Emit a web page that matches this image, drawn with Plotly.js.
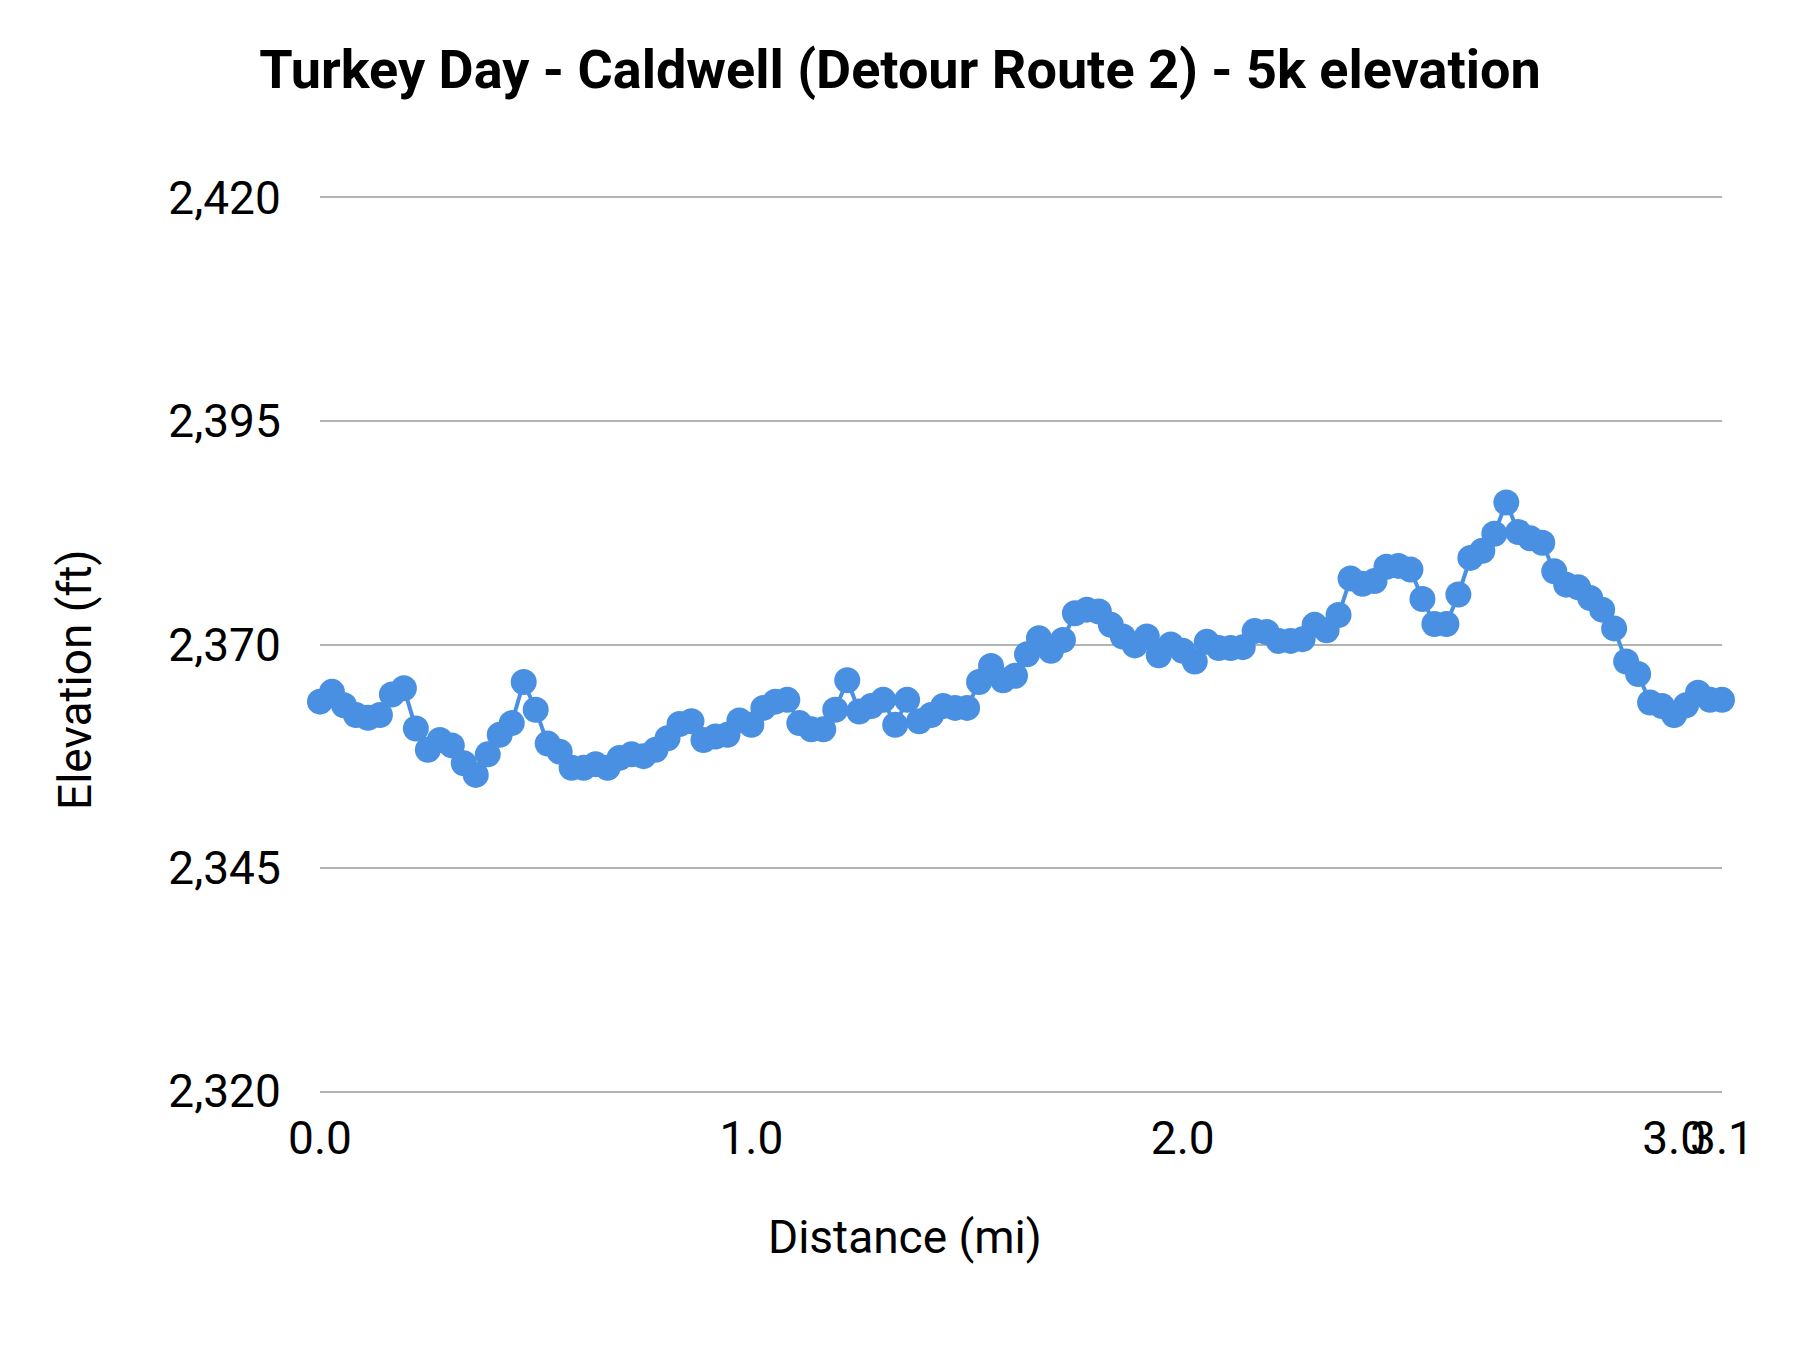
<!DOCTYPE html>
<html>
<head>
<meta charset="utf-8">
<script src="https://cdn.plot.ly/plotly-3.0.1.min.js"></script>
<style>
  body { margin: 0; background: #fff; }
  #graphDiv { width: 1800px; height: 1350px; }
</style>
</head>
<body>
<div id="graphDiv"></div>
<script>
// elevation samples (ft), one per logged point along the route
var elevations = [
    2363.6, 2364.7, 2363.2, 2362.1, 2361.8, 2362.1, 2364.4, 2365.1, 2360.6, 2358.2,
    2359.3, 2358.7, 2356.7, 2355.4, 2357.7, 2359.9, 2361.2, 2365.8, 2362.7, 2358.9,
    2358.0, 2356.2, 2356.2, 2356.6, 2356.2, 2357.3, 2357.7, 2357.5, 2358.2, 2359.5,
    2361.1, 2361.4, 2359.3, 2359.7, 2359.9, 2361.5, 2361.0, 2362.9, 2363.6, 2363.8,
    2361.2, 2360.5, 2360.5, 2362.7, 2366.0, 2362.5, 2363.1, 2363.8, 2361.0, 2363.8,
    2361.4, 2362.1, 2363.1, 2362.9, 2362.9, 2365.8, 2367.6, 2366.0, 2366.5, 2368.9,
    2370.7, 2369.3, 2370.5, 2373.5, 2373.9, 2373.7, 2372.2, 2370.9, 2369.9, 2370.9,
    2368.8, 2370.0, 2369.3, 2368.1, 2370.3, 2369.6, 2369.6, 2369.7, 2371.5, 2371.4,
    2370.4, 2370.4, 2370.6, 2372.2, 2371.6, 2373.3, 2377.4, 2376.8, 2377.1, 2378.7,
    2378.8, 2378.4, 2375.1, 2372.3, 2372.3, 2375.6, 2379.7, 2380.5, 2382.4, 2385.9,
    2382.6, 2381.9, 2381.4, 2378.2, 2376.7, 2376.4, 2375.2, 2373.9, 2371.8, 2368.1,
    2366.7, 2363.5, 2363.1, 2362.1, 2363.2, 2364.6, 2363.8, 2363.8
];

// the distance axis is labelled at a few of the samples only
var distTickPoints = [0, 36, 72, 113, 117];
var distTickLabels = ["0.0", "1.0", "2.0", "3.0", "3.1"];

var elevTicks = [2320, 2345, 2370, 2395, 2420];

function makeGraph() {
    var pointIdx = [];
    for (var i = 0; i < elevations.length; i++) {
        pointIdx.push(i);
    }
    var trace = {
        type: 'scatter',
        mode: 'lines+markers',
        x: pointIdx,
        y: elevations,
        line: {
            color: '#4a90e2',
            width: 4
        },
        marker: {
            color: '#4a90e2',
            size: 26
        },
        cliponaxis: false,
        hoverinfo: 'y'
    };
    var layout = {
        width: 1800,
        height: 1350,
        paper_bgcolor: '#ffffff',
        plot_bgcolor: '#ffffff',
        showlegend: false,
        font: {
            family: 'Roboto, sans-serif',
            color: '#000000',
            size: 46
        },
        margin: {
            l: 320,
            r: 78,
            t: 198,
            b: 259,
            pad: 0
        },
        title: {
            text: '<b>Turkey Day - Caldwell (Detour Route 2) - 5k elevation</b>',
            font: { size: 54, family: 'Roboto, sans-serif', color: '#000000' },
            x: 0.5,
            xanchor: 'center',
            y: 0.949,
            yanchor: 'middle'
        },
        xaxis: {
            range: [0, elevations.length - 1],
            tickmode: 'array',
            tickvals: distTickPoints,
            ticktext: distTickLabels,
            tickangle: 0,
            showgrid: false,
            zeroline: false,
            showline: true,
            mirror: true,
            linecolor: '#b3b3b3',
            linewidth: 2,
            ticks: 'outside',
            ticklen: 6,
            tickcolor: 'rgba(0,0,0,0)',
            tickfont: { size: 46 }
        },
        yaxis: {
            range: [2320, 2420],
            tickmode: 'array',
            tickvals: elevTicks,
            tickformat: ',d',
            showgrid: true,
            gridcolor: '#b3b3b3',
            gridwidth: 2,
            zeroline: false,
            showline: false,
            ticks: 'outside',
            ticklen: 29,
            tickcolor: 'rgba(0,0,0,0)',
            tickfont: { size: 46 }
        },
        // axis titles sit where the original puts them, not centred on the plot area
        annotations: [{
            text: 'Distance (mi)',
            xref: 'paper',
            yref: 'paper',
            x: 0.4173,
            y: -0.1635,
            xanchor: 'center',
            yanchor: 'middle',
            showarrow: false,
            font: { size: 46 }
        }, {
            text: 'Elevation (ft)',
            xref: 'paper',
            yref: 'paper',
            x: -0.1748,
            y: 0.4602,
            xanchor: 'center',
            yanchor: 'middle',
            textangle: -90,
            showarrow: false,
            font: { size: 46 }
        }]
    };
    Plotly.newPlot('graphDiv', [trace], layout, { displayModeBar: false, staticPlot: true });
}

makeGraph();
</script>
</body>
</html>
